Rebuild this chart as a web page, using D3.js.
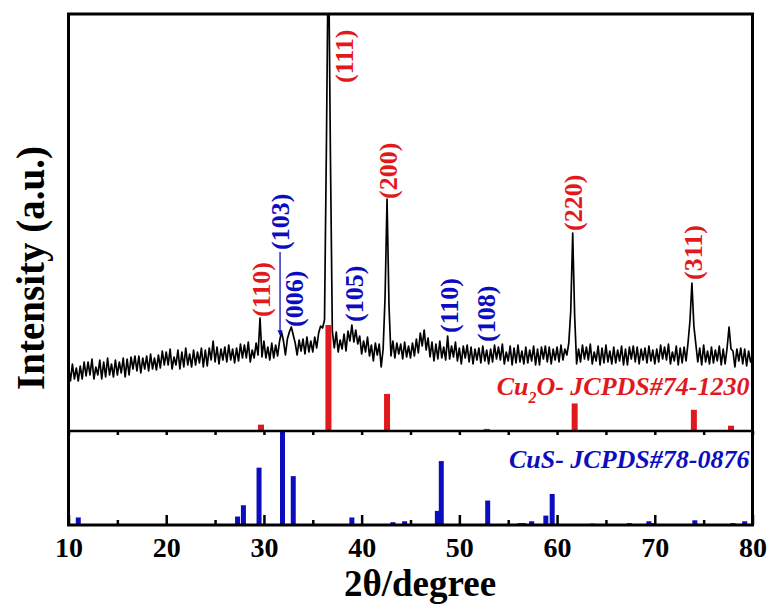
<!DOCTYPE html>
<html>
<head>
<meta charset="utf-8">
<script src="https://cdn.jsdelivr.net/npm/d3@7"></script>
<style>
body { margin: 0; background: #fff; }
text { font-family: "Liberation Serif", "Times New Roman", serif; font-weight: bold; }
</style>
</head>
<body>
<div id="chart"></div>
<script>
// XRD scan: 2theta from 10 to 80, 0.2 deg per point
var thetaStart = 10,
    thetaStep = 0.2;
var counts = [
    650, 500, 670, 520, 630,   500, 650, 520, 690, 550,
    690, 560, 720, 520, 640,   560, 710, 520, 690, 540,
    730, 560, 670, 540, 710,   560, 690, 580, 730, 540,
    720, 560, 740, 620, 750,   600, 750, 580, 730, 620,
    750, 600, 770, 620, 730,   610, 760, 630, 800, 660,
    790, 660, 820, 620, 740,   660, 810, 620, 790, 640,
    830, 660, 770, 640, 810,   660, 790, 680, 830, 640,
    810, 650, 830, 710, 900,   690, 840, 670, 820, 710,
    840, 690, 860, 710, 820,   680, 830, 700, 870, 730,
    860, 730, 890, 690, 810,   730, 880, 760, 1130, 740,
    900, 730, 840, 710, 880,   730, 860, 750, 900, 990,
    900, 760, 920, 990, 1040,  960, 880, 760, 910, 800,
    920, 770, 940, 790, 900,   790, 940, 830, 980, 1050,
    1030, 1110, 2900, 5000, 2800,  1000, 830, 990, 790, 910,
    820, 970, 800, 1000, 900,  1060, 890, 1010, 870, 950,
    770, 900, 790, 940, 750,   860, 700, 880, 760, 870,
    640, 820, 1350, 2320, 1250,  750, 900, 730, 880, 770,
    870, 720, 890, 740, 850,   730, 880, 750, 920, 780,
    980, 850, 1010, 810, 930,  740, 890, 700, 870, 720,
    900, 730, 840, 710, 950,   720, 850, 740, 890, 700,
    830, 670, 850, 730, 860,   690, 840, 670, 820, 710,
    830, 680, 850, 700, 810,   670, 820, 690, 860, 720,
    840, 710, 870, 670, 790,   700, 850, 660, 830, 680,
    860, 690, 800, 670, 840,   680, 810, 700, 850, 660,
    820, 660, 840, 720, 850,   690, 840, 670, 820, 710,
    840, 690, 860, 710, 820,   760, 880, 1200, 1980, 1150,
    670, 820, 690, 860, 720,   840, 710, 870, 670, 790,
    700, 850, 660, 830, 680,   860, 690, 800, 670, 840,
    680, 810, 700, 850, 660,   820, 660, 840, 720, 850,
    690, 840, 670, 820, 710,   830, 680, 850, 700, 810,
    670, 820, 690, 860, 720,   840, 710, 870, 670, 790,
    700, 850, 660, 830, 680,   840, 700, 880, 1100, 1480,
    1050, 870, 690, 830, 660,  860, 690, 800, 670, 840,
    680, 810, 700, 850, 660,   820, 670, 830, 1040, 820,
    800, 640, 820, 700, 830,   670, 820, 650, 800, 690,
    760
];

// Cu2O reference lines (JCPDS 74-1230)
var cu2oAngles = [29.7, 36.6, 42.6, 52.8, 61.8, 74.0, 77.8];
var cu2oInt = [6, 100, 35, 2, 26, 20, 5];

// CuS reference lines (JCPDS 78-0876)
var cusAngles = [11.0, 21.9, 27.3, 27.9, 29.5, 31.9, 33.0, 39.0, 43.2, 44.4, 47.75, 48.15,
                 52.9, 56.2, 56.55, 57.4, 58.85, 59.5, 63.65, 67.4, 69.4, 69.85, 74.1, 78.0, 79.2];
var cusInt = [8, 1, 9, 21, 61, 100, 52, 8, 3, 4, 15, 68,
              26, 2, 2, 4, 10, 33, 1.5, 2, 4, 2, 5, 2, 4];

// hkl labels: text, phase, angle where the label sits, counts at its lower end
var labelText = ["(110)", "(111)", "(200)", "(220)", "(311)",
                 "(103)", "(006)", "(105)", "(110)", "(108)"];
var labelPhase = ["Cu2O", "Cu2O", "Cu2O", "Cu2O", "Cu2O",
                  "CuS", "CuS", "CuS", "CuS", "CuS"];
var labelAngle = [29.7, 38.2, 42.7, 61.6, 73.9, 31.65, 33.05, 39.2, 48.9, 52.7];
var labelLevel = [1140, 3480, 2320, 2000, 1510, 1810, 1040, 1090, 980, 890];

var majorTicks = [10, 20, 30, 40, 50, 60, 70, 80];
var minorTicks = [15, 25, 35, 45, 55, 65, 75];

var red = "#e2191c",
    blue = "#0d0dc0";

var W = 771, H = 606;
var margin = { top: 14, right: 18.5, bottom: 81, left: 68.5 };
var splitY = 431;   // border between the two panels

var svg = d3.select("#chart").append("svg")
    .attr("width", W)
    .attr("height", H);

var x = d3.scaleLinear()
    .domain([10, 80])
    .range([margin.left, W - margin.right]);

var yTop = d3.scaleLinear()
    .domain([0, 4170])
    .range([splitY, margin.top]);

var yRefTop = d3.scaleLinear()
    .domain([0, 100])
    .range([splitY, splitY - 106]);

var yBot = d3.scaleLinear()
    .domain([0, 100])
    .range([H - margin.bottom, splitY]);

svg.append("clipPath").attr("id", "topclip")
    .append("rect")
    .attr("x", x(10))
    .attr("y", margin.top)
    .attr("width", x(80) - x(10))
    .attr("height", splitY - margin.top);

// -- measured pattern --
var line = d3.line()
    .x(function(d, i) { return x(thetaStart + i * thetaStep); })
    .y(function(d) { return yTop(d); });

svg.append("path")
    .datum(counts)
    .attr("clip-path", "url(#topclip)")
    .attr("fill", "none")
    .attr("stroke", "#000")
    .attr("stroke-width", 1.7)
    .attr("stroke-linejoin", "round")
    .attr("d", line);

// -- reference bars --
svg.append("g").selectAll("rect")
    .data(cu2oAngles)
    .enter().append("rect")
    .attr("x", function(d) { return x(d) - 3; })
    .attr("y", function(d, i) { return yRefTop(cu2oInt[i]); })
    .attr("width", 6)
    .attr("height", function(d, i) { return splitY - yRefTop(cu2oInt[i]); })
    .attr("fill", red);

svg.append("g").selectAll("rect")
    .data(cusAngles)
    .enter().append("rect")
    .attr("x", function(d) { return x(d) - 2.5; })
    .attr("y", function(d, i) { return yBot(cusInt[i]); })
    .attr("width", 5)
    .attr("height", function(d, i) { return yBot(0) - yBot(cusInt[i]); })
    .attr("fill", blue);

// -- axes: ticks point inward --
var bottomMajor = d3.axisBottom(x)
    .tickValues(majorTicks)
    .tickSizeInner(-10)
    .tickSizeOuter(0)
    .tickPadding(12)
    .tickFormat(d3.format("d"));

var bottomMinor = d3.axisBottom(x)
    .tickValues(minorTicks)
    .tickSizeInner(-5)
    .tickSizeOuter(0)
    .tickFormat("");

var splitTicks = d3.axisBottom(x)
    .tickValues(majorTicks.concat(minorTicks))
    .tickSizeInner(4)
    .tickSizeOuter(0)
    .tickFormat("");

var gMaj = svg.append("g")
    .attr("transform", "translate(0," + yBot(0) + ")")
    .call(bottomMajor);
var gMin = svg.append("g")
    .attr("transform", "translate(0," + yBot(0) + ")")
    .call(bottomMinor);
var gSplit = svg.append("g")
    .attr("transform", "translate(0," + splitY + ")")
    .call(splitTicks);

[gMaj, gMin, gSplit].forEach(function(g) {
    g.select(".domain").remove();
    g.selectAll(".tick line").attr("stroke", "#000").attr("stroke-width", 2.5);
});
gMaj.selectAll(".tick text")
    .attr("fill", "#000")
    .style("font-size", "28px")
    .style("font-family", "'Liberation Serif', 'Times New Roman', serif")
    .style("font-weight", "bold");

// frame and panel divider
svg.append("rect")
    .attr("x", x(10))
    .attr("y", margin.top)
    .attr("width", x(80) - x(10))
    .attr("height", yBot(0) - margin.top)
    .attr("fill", "none")
    .attr("stroke", "#000")
    .attr("stroke-width", 3);

svg.append("line")
    .attr("x1", x(10)).attr("x2", x(80))
    .attr("y1", splitY).attr("y2", splitY)
    .attr("stroke", "#000")
    .attr("stroke-width", 2.5);

// -- hkl labels --
svg.append("g").selectAll("text")
    .data(labelText)
    .enter().append("text")
    .attr("transform", function(d, i) {
        return "translate(" + x(labelAngle[i]) + "," + yTop(labelLevel[i]) + ") rotate(-90)";
    })
    .attr("dy", "0.35em")
    .attr("fill", function(d, i) { return labelPhase[i] == "Cu2O" ? red : blue; })
    .style("font-size", "26px")
    .text(function(d) { return d; });

// leader arrow from (103) down to its peak
svg.append("defs").append("marker")
    .attr("id", "arrowhead")
    .attr("viewBox", "0 0 10 10")
    .attr("refX", 9).attr("refY", 5)
    .attr("markerWidth", 4).attr("markerHeight", 5)
    .attr("orient", "auto")
    .append("path")
    .attr("d", "M0,0 L10,5 L0,10 z")
    .attr("fill", blue);

svg.append("line")
    .attr("x1", x(31.65)).attr("x2", x(31.65))
    .attr("y1", yTop(1790)).attr("y2", yTop(960))
    .attr("stroke", blue)
    .attr("stroke-width", 1.3)
    .attr("marker-end", "url(#arrowhead)");

// -- phase captions --
var cap1 = svg.append("text")
    .attr("x", x(80) - 3)
    .attr("y", 395)
    .attr("text-anchor", "end")
    .attr("fill", red)
    .style("font-size", "26px")
    .style("font-style", "italic");
cap1.append("tspan").text("Cu");
cap1.append("tspan").attr("dy", 8).style("font-size", "16px").text("2");
cap1.append("tspan").attr("dy", -8).text("O- JCPDS#74-1230");

svg.append("text")
    .attr("x", x(80) - 3)
    .attr("y", 468)
    .attr("text-anchor", "end")
    .attr("fill", blue)
    .style("font-size", "26px")
    .style("font-style", "italic")
    .text("CuS- JCPDS#78-0876");

// -- axis titles --
svg.append("text")
    .attr("x", 420)
    .attr("y", 596)
    .attr("text-anchor", "middle")
    .attr("fill", "#000")
    .style("font-size", "37px")
    .text("2θ/degree");

svg.append("text")
    .attr("transform", "translate(44,268) rotate(-90)")
    .attr("text-anchor", "middle")
    .attr("fill", "#000")
    .style("font-size", "39px")
    .text("Intensity (a.u.)");
</script>
</body>
</html>
